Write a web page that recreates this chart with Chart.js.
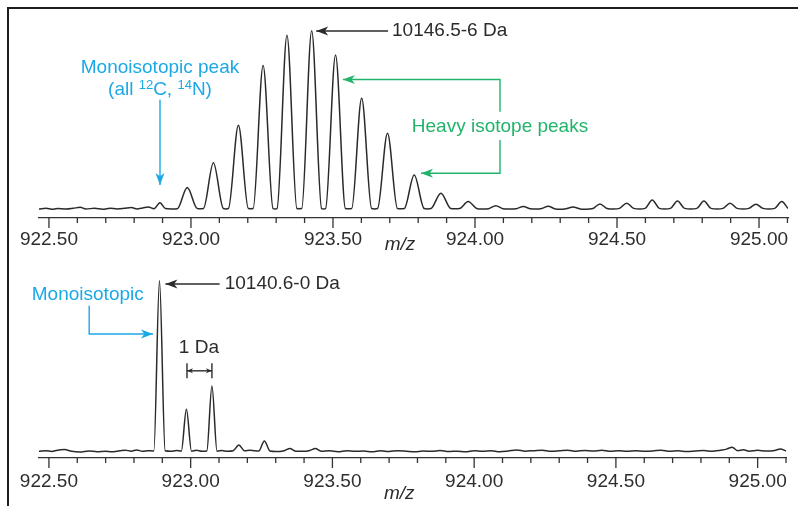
<!DOCTYPE html>
<html>
<head>
<meta charset="utf-8">
<title>Isotope peaks</title>
<script src="https://cdn.jsdelivr.net/npm/chart.js@4.4.1/dist/chart.umd.min.js"></script>
<style>
  body { margin: 0; background: #fff; }
  #wrap { position: relative; width: 798px; height: 506px; overflow: hidden; }
  #frame { position: absolute; left: 7px; top: 7px; right: -5px; bottom: -5px;
           border-top: 2px solid #1e1e1e; border-left: 2px solid #1e1e1e; }
  canvas { position: absolute; left: 0; }
</style>
</head>
<body>
<div id="wrap">
  <div id="frame"></div>
  <canvas id="topChart" width="798" height="256" style="top:0"></canvas>
  <canvas id="bottomChart" width="798" height="250" style="top:256px"></canvas>
</div>
<script>
// spectra: [m/z, relative intensity]
// top: labelled protein, 10146.5-6 Da (tallest peak = 100)
const topSpectrum = [
  [922.465, 0.2], [922.49, 0.5], [922.51, 0.0], [922.53, 0.4], [922.56, 0.1],
  [922.585, 0.5], [922.61, 1.1], [922.63, 0.2], [922.66, 0.5], [922.69, 0.0],
  [922.715, 0.6], [922.74, 0.2], [922.765, 0.5], [922.79, 1.0], [922.81, 0.2],
  [922.83, 0.7], [922.85, 1.3], [922.87, 0.3], [922.891, 3.7], [922.91, 0.4],
  [922.93, 0.2], [922.952, 0.3], [922.987, 12.2], [923.022, 0.4], [923.033, 0.3],
  [923.044, 0.4], [923.079, 26], [923.114, 0.4], [923.123, 0.2], [923.132, 0.4],
  [923.167, 47], [923.202, 0.4], [923.21, 0.3], [923.219, 0.4], [923.254, 80.5],
  [923.289, 0.4], [923.296, 0.2], [923.303, 0.4], [923.338, 97.5], [923.373, 0.4],
  [923.381, 0.3], [923.39, 0.4], [923.425, 100], [923.46, 0.4], [923.467, 0.2],
  [923.474, 0.4], [923.509, 86.4], [923.544, 0.4], [923.555, 0.3], [923.566, 0.4],
  [923.601, 62.2], [923.636, 0.4], [923.646, 0.2], [923.657, 0.4], [923.692, 42.6],
  [923.727, 0.4], [923.739, 0.3], [923.751, 0.4], [923.786, 19.2], [923.821, 0.4],
  [923.833, 0.2], [923.845, 0.4], [923.880, 9.0], [923.915, 0.4], [923.928, 0.3],
  [923.946, 0.4], [923.976, 4.3], [924.006, 0.4], [924.024, 0.1], [924.048, 0.3],
  [924.073, 2.0], [924.098, 0.3], [924.12, 0.1], [924.145, 0.3], [924.17, 1.5],
  [924.195, 0.3], [924.215, 0.1], [924.235, 0.4], [924.258, 1.7], [924.28, 0.3],
  [924.30, 0.0], [924.32, 0.3], [924.345, 1.2], [924.37, 0.2], [924.39, 0.0],
  [924.415, 0.4], [924.44, 3.0], [924.465, 0.4], [924.487, 0.1], [924.509, 0.5],
  [924.534, 3.4], [924.559, 0.5], [924.58, 0.2], [924.599, 0.5], [924.624, 5.2],
  [924.649, 0.5], [924.668, 0.2], [924.688, 0.5], [924.713, 4.6], [924.738, 0.5],
  [924.76, 0.2], [924.781, 0.5], [924.806, 4.6], [924.831, 0.5], [924.852, 0.2],
  [924.873, 0.5], [924.898, 3.4], [924.923, 0.5], [924.944, 0.2], [924.964, 0.5],
  [924.989, 2.8], [925.014, 0.5], [925.035, 0.2], [925.055, 0.5], [925.08, 4.3],
  [925.102, 0.4]
];

// bottom: unlabelled protein, 10140.6-0 Da (monoisotopic peak = 100)
const bottomSpectrum = [
  [922.465, 0.2], [922.49, 0.6], [922.51, 0.1], [922.53, 0.9], [922.555, 1.2],
  [922.58, 0.2], [922.61, -0.2], [922.64, 0.4], [922.67, 0.0], [922.70, 0.3],
  [922.72, -0.1], [922.75, 0.5], [922.77, 0.9], [922.79, 0.3], [922.81, 1.0],
  [922.83, 0.2], [922.85, 0.6], [922.87, 0.4], [922.89, 100], [922.91, 0.5],
  [922.93, 0.2], [922.95, 0.7], [922.967, 0.3], [922.985, 24.8], [923.003, 0.3],
  [923.02, 0.8], [923.04, 0.2], [923.057, 0.4], [923.075, 38.4], [923.093, 0.3],
  [923.11, 0.7], [923.13, 0.2], [923.15, 0.5], [923.17, 3.9], [923.19, 0.5],
  [923.21, 0.8], [923.24, 0.4], [923.26, 6.3], [923.28, 0.4], [923.30, 0.1],
  [923.33, 0.6], [923.35, 1.8], [923.37, 0.3], [923.40, 0.2], [923.42, 0.7],
  [923.44, 1.8], [923.46, 0.3], [923.49, 0.5], [923.52, 0.0], [923.55, 0.6],
  [923.58, 0.2], [923.61, 0.4], [923.64, -0.1], [923.67, 0.5], [923.70, 0.1],
  [923.73, 0.6], [923.76, 0.3], [923.79, -0.1], [923.82, 0.4], [923.85, 0.2],
  [923.88, 0.7], [923.91, 0.1], [923.94, 0.3], [923.97, -0.1], [924.00, 0.5],
  [924.03, 0.2], [924.06, 0.6], [924.09, 0.0], [924.12, 0.4], [924.15, 1.0],
  [924.18, 0.3], [924.21, 0.6], [924.24, 0.9], [924.27, 0.2], [924.30, 0.5],
  [924.33, 0.9], [924.36, 0.3], [924.39, 0.7], [924.42, 0.4], [924.45, 0.8],
  [924.48, 0.2], [924.51, 0.5], [924.54, 0.3], [924.57, 0.6], [924.60, 0.2],
  [924.63, 0.4], [924.66, 0.9], [924.69, 0.2], [924.72, 0.5], [924.75, 0.1],
  [924.78, 0.4], [924.81, 0.7], [924.84, 0.2], [924.87, 0.9], [924.89, 1.5],
  [924.91, 2.6], [924.93, 0.6], [924.95, 1.1], [924.97, 0.3], [925.00, 0.8],
  [925.03, 0.4], [925.06, 0.7], [925.08, 1.6], [925.10, 0.4]
];

const mzMin = 922.465, mzMax = 925.102;
const mzStep = 0.1;        // minor ticks; labels every 0.5

const FONT = "'Liberation Sans', Arial, Helvetica, sans-serif";
const INK = '#2b2b2b';
const CYAN = '#1ba9e6';
const GREEN = '#22b46a';

// annotations, in data units (m/z, intensity)
const topNotes = [
  {kind: 'arrow', color: INK, path: [[923.694, 99.8], [923.441, 99.8]]},
  {kind: 'text', color: INK, align: 'left', at: [923.708, 99.8], parts: [{t: '10146.5-6 Da'}]},
  {kind: 'text', color: CYAN, align: 'center', at: [922.891, 79.4], parts: [{t: 'Monoisotopic peak'}]},
  {kind: 'text', color: CYAN, align: 'center', at: [922.891, 66.8],
   parts: [{t: '(all '}, {t: '12', sup: true}, {t: 'C, '}, {t: '14', sup: true}, {t: 'N)'}]},
  {kind: 'arrow', color: CYAN, path: [[922.891, 61.3], [922.891, 13.6]]},
  {kind: 'text', color: GREEN, align: 'center', at: [924.088, 46.2], parts: [{t: 'Heavy isotope peaks'}]},
  {kind: 'arrow', color: GREEN, path: [[924.088, 54.6], [924.088, 72.7], [923.535, 72.7]]},
  {kind: 'arrow', color: GREEN, path: [[924.088, 38.8], [924.088, 20.2], [923.81, 20.2]]}
];

const bottomNotes = [
  {kind: 'arrow', color: INK, path: [[923.102, 98.1], [922.911, 98.1]]},
  {kind: 'text', color: INK, align: 'left', at: [923.120, 98.1], parts: [{t: '10140.6-0 Da'}]},
  {kind: 'text', color: CYAN, align: 'center', at: [922.637, 91.6], parts: [{t: 'Monoisotopic'}]},
  {kind: 'arrow', color: CYAN, path: [[922.642, 85.3], [922.642, 68.8], [922.867, 68.8]]},
  {kind: 'text', color: INK, align: 'center', at: [923.029, 60.5], parts: [{t: '1 Da'}]},
  {kind: 'line', color: INK, path: [[922.987, 51.7], [922.987, 42.9]]},
  {kind: 'line', color: INK, path: [[923.075, 51.7], [923.075, 42.9]]},
  {kind: 'span', color: INK, path: [[922.987, 47.3], [923.075, 47.3]]}
];

function arrowHead(ctx, x, y, angle, len, half, color) {
  ctx.save();
  ctx.translate(x, y);
  ctx.rotate(angle);
  ctx.beginPath();
  ctx.moveTo(0, 0);
  ctx.lineTo(-len, -half);
  ctx.lineTo(-len * 0.72, 0);
  ctx.lineTo(-len, half);
  ctx.closePath();
  ctx.fillStyle = color;
  ctx.fill();
  ctx.restore();
}

function strokePath(ctx, pts, color) {
  ctx.strokeStyle = color;
  ctx.lineWidth = 1.4;
  ctx.beginPath();
  pts.forEach((p, i) => i ? ctx.lineTo(p[0], p[1]) : ctx.moveTo(p[0], p[1]));
  ctx.stroke();
}

function drawParts(ctx, parts, x, y, align, color) {
  const big = '19px ' + FONT, small = '13px ' + FONT;
  let w = 0;
  parts.forEach(p => { ctx.font = p.sup ? small : big; w += ctx.measureText(p.t).width; });
  let cx = align === 'center' ? x - w / 2 : x;
  ctx.fillStyle = color;
  ctx.textAlign = 'left';
  ctx.textBaseline = 'middle';
  parts.forEach(p => {
    ctx.font = p.sup ? small : big;
    ctx.fillText(p.t, cx, p.sup ? y - 4.5 : y);
    cx += ctx.measureText(p.t).width;
  });
}

const figurePlugin = {
  id: 'figure',
  afterDraw(chart) {
    const ctx = chart.ctx;
    const xs = chart.scales.x, ys = chart.scales.y;
    const toPx = p => [xs.getPixelForValue(p[0]), ys.getPixelForValue(p[1])];
    ctx.save();

    // tick marks: long at every 0.5, short at every 0.1
    ctx.strokeStyle = '#333';
    ctx.lineWidth = 1.3;
    xs.ticks.forEach(t => {
      const k = Math.round(t.value / mzStep);
      if (Math.abs(t.value / mzStep - k) > 1e-6) return;
      const x = xs.getPixelForValue(t.value);
      ctx.beginPath();
      ctx.moveTo(x, xs.top);
      ctx.lineTo(x, xs.top + (k % 5 === 0 ? 10 : 5));
      ctx.stroke();
    });

    // axis title
    ctx.font = 'italic 19px ' + FONT;
    ctx.fillStyle = INK;
    ctx.textAlign = 'center';
    ctx.textBaseline = 'middle';
    ctx.fillText('m/z', xs.getPixelForValue(923.736), xs.top + chart.options.plugins.figure.titleOffset);

    chart.options.plugins.figure.notes.forEach(n => {
      if (n.kind === 'text') {
        const [x, y] = toPx(n.at);
        drawParts(ctx, n.parts, x, y, n.align, n.color);
      } else {
        const pts = n.path.map(toPx);
        strokePath(ctx, pts, n.color);
        if (n.kind === 'arrow') {
          const a = pts[pts.length - 2], b = pts[pts.length - 1];
          arrowHead(ctx, b[0], b[1], Math.atan2(b[1] - a[1], b[0] - a[0]), 12, 4.5, n.color);
        }
        if (n.kind === 'span') {
          const a = pts[0], b = pts[1];
          arrowHead(ctx, b[0], b[1], 0, 6, 2.5, n.color);
          arrowHead(ctx, a[0], a[1], Math.PI, 6, 2.5, n.color);
        }
      }
    });
    ctx.restore();
  }
};

function makeChart(id, spectrum, notes, yMin, yMax, padTop, axisHeight, tickPad, titleOffset) {
  return new Chart(document.getElementById(id), {
    type: 'line',
    data: {
      datasets: [{
        data: spectrum.map(p => ({x: p[0], y: p[1]})),
        borderColor: '#2a2a2a',
        borderWidth: 1.5,
        pointRadius: 0,
        fill: false,
        cubicInterpolationMode: 'monotone'
      }]
    },
    options: {
      responsive: false,
      animation: false,
      devicePixelRatio: 1,
      layout: {padding: {left: 39, right: 10, top: padTop, bottom: 0}},
      scales: {
        x: {
          type: 'linear',
          min: mzMin,
          max: mzMax,
          grid: {display: false, drawTicks: false},
          border: {display: true, color: '#333', width: 1.3},
          afterFit: s => { s.height = axisHeight; },
          ticks: {
            stepSize: mzStep,
            includeBounds: false,
            autoSkip: false,
            maxRotation: 0,
            padding: tickPad,
            color: '#2e2e2e',
            font: {family: FONT, size: 19},
            callback: v => {
              const k = Math.round(v / mzStep);
              return (Math.abs(v / mzStep - k) < 1e-6 && k % 5 === 0) ? v.toFixed(2) : '';
            }
          }
        },
        y: {display: false, min: yMin, max: yMax}
      },
      plugins: {
        legend: {display: false},
        tooltip: {enabled: false},
        figure: {notes: notes, titleOffset: titleOffset}
      }
    },
    plugins: [figurePlugin]
  });
}

makeChart('topChart', topSpectrum, topNotes, -4.9, 106, 20, 38, 10, 27);
makeChart('bottomChart', bottomSpectrum, bottomNotes, -3.7, 108.6, 10, 48, 12, 36);
</script>
</body>
</html>
